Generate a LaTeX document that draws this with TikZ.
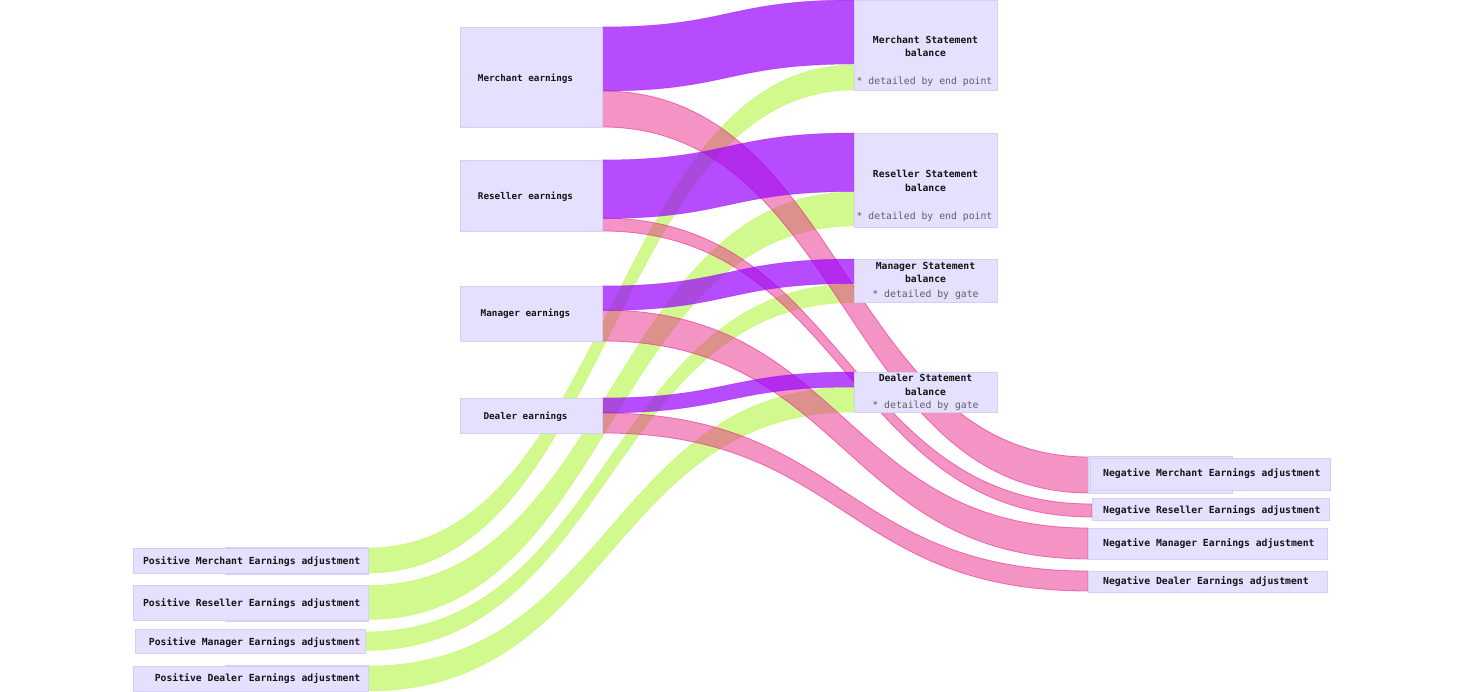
\documentclass[tikz,border=0pt]{standalone}
\usepackage{fontspec}
\setmonofont{DejaVu Sans Mono}
\usetikzlibrary{calc,backgrounds}
\definecolor{boxfill}{RGB}{230,224,255}
\definecolor{boxline}{RGB}{214,206,246}
\definecolor{purp}{RGB}{153,0,255}
\definecolor{pinkc}{RGB}{231,41,138}
\definecolor{greenc}{RGB}{178,245,66}
\definecolor{detailc}{RGB}{95,95,95}
\definecolor{txt}{RGB}{20,20,20}
\tikzset{
  box/.style={draw=boxline, fill=boxfill, line width=0.8pt, inner sep=0pt, outer sep=0pt, anchor=north west},
  ghost/.style={draw=boxline, fill=boxfill, line width=0.8pt},
  title/.style={font=\ttfamily\bfseries\fontsize{9.7}{13.3}\selectfont, text=txt, align=center, inner sep=0pt},
  earn/.style={font=\ttfamily\bfseries\fontsize{9.3}{13}\selectfont, text=txt, inner sep=0pt, anchor=mid, yshift=-1.8pt},
  adj/.style={font=\ttfamily\bfseries\fontsize{9.75}{13}\selectfont, text=txt, inner sep=0pt, yshift=-1.8pt},
  detail/.style={font=\ttfamily\fontsize{9.8}{13}\selectfont, text=detailc, inner sep=0pt, anchor=mid, yshift=-1.8pt},
  purpflow/.style={fill=purp, fill opacity=0.7, draw=purp, draw opacity=0.5, line width=0.5pt},
  pinkflow/.style={fill=pinkc, fill opacity=0.5, draw=pinkc, draw opacity=0.6, line width=0.8pt},
  greenflow/.style={fill=greenc, fill opacity=0.6, draw=greenc, draw opacity=0.5, line width=0.5pt},
}
% #1 source node, #2 offset below its top, #3 target node, #4 offset below its top, #5 band width, #6 style
\newcommand{\flowband}[6]{%
  \path[#6] let \p1=(#1.north east), \p2=(#3.north west), \n1={0.5*(\x1+\x2)} in
    (\x1,{\y1-(#2)*1pt}) .. controls (\n1,{\y1-(#2)*1pt}) and (\n1,{\y2-(#4)*1pt}) .. (\x2,{\y2-(#4)*1pt})
    -- (\x2,{\y2-(#4+#5)*1pt}) .. controls (\n1,{\y2-(#4+#5)*1pt}) and (\n1,{\y1-(#2+#5)*1pt}) .. (\x1,{\y1-(#2+#5)*1pt}) -- cycle;}
\begin{document}
\begin{tikzpicture}[x=1pt,y=-1pt]
\useasboundingbox (0,0) rectangle (1458,692);
% earnings
\node[box, minimum width=142pt, minimum height=100pt] (me) at (460,27) {};
\node[box, minimum width=142pt, minimum height=71pt] (re) at (460,160) {};
\node[box, minimum width=142pt, minimum height=55pt] (ma) at (460,286) {};
\node[box, minimum width=142pt, minimum height=35pt] (de) at (460,398) {};
\node[earn] (met) at (525.5,77.3) {Merchant earnings};
\node[earn] (ret) at (525.5,195.3) {Reseller earnings};
\node[earn] (mat) at (525.5,313) {Manager earnings};
\node[earn] (det) at (525.5,415.3) {Dealer earnings};
% statements
\node[box, minimum width=143pt, minimum height=90pt] (msb) at (854,0) {};
\node[box, minimum width=143pt, minimum height=94pt] (rsb) at (854,133) {};
\node[box, minimum width=143pt, minimum height=43pt] (gsb) at (854,259) {};
\node[box, minimum width=143pt, minimum height=40pt] (dsb) at (854,372) {};
\node[title] (msbt) at (925.5,46.5) {Merchant Statement\\balance};
\node[title] (rsbt) at (925.5,180.8) {Reseller Statement\\balance};
\node[title] (gsbt) at (925.5,272.6) {Manager Statement\\balance};
\node[title] (dsbt) at (925.5,384.9) {Dealer Statement\\balance};
\node[detail] (msbd) at (924.5,80.5) {* detailed by end point};
\node[detail] (rsbd) at (924.5,216) {* detailed by end point};
\node[detail] (gsbd) at (925.5,293.8) {* detailed by gate};
\node[detail] (dsbd) at (925.5,405) {* detailed by gate};
% positive adjustments
\draw[ghost] (225,547) rectangle (368,574);
\draw[ghost] (225,586) rectangle (368,621);
\draw[ghost] (225,665) rectangle (368,692);
\node[box, minimum width=235pt, minimum height=25pt] (pme) at (133,548) {};
\node[box, minimum width=235pt, minimum height=35pt] (pre) at (133,585) {};
\node[box, minimum width=230pt, minimum height=24pt] (pma) at (135,629) {};
\node[box, minimum width=235pt, minimum height=25pt] (pde) at (133,666) {};
\node[adj, anchor=mid east] (pmet) at (360.5,560.5) {Positive Merchant Earnings adjustment};
\node[adj, anchor=mid east] (pret) at (360.5,602.5) {Positive Reseller Earnings adjustment};
\node[adj, anchor=mid east] (pmat) at (360.5,641.3) {Positive Manager Earnings adjustment};
\node[adj, anchor=mid east] (pdet) at (360.5,678) {Positive Dealer Earnings adjustment};
% negative adjustments
\draw[ghost] (1088,456) rectangle (1232,493);
\node[box, minimum width=240pt, minimum height=32pt] (nmebox) at (1090,458) {};
\coordinate (nme) at (1089,456);
\node[box, minimum width=237pt, minimum height=22pt] (nre) at (1092,498) {};
\node[box, minimum width=239pt, minimum height=31pt] (nma) at (1088,528) {};
\node[box, minimum width=239pt, minimum height=21pt] (nde) at (1088,571) {};
\node[adj, anchor=mid west] (nmet) at (1103,473) {Negative Merchant Earnings adjustment};
\node[adj, anchor=mid west] (nret) at (1103,509.5) {Negative Reseller Earnings adjustment};
\node[adj, anchor=mid west] (nmat) at (1103,542.3) {Negative Manager Earnings adjustment};
\node[adj, anchor=mid west] (ndet) at (1103,580.3) {Negative Dealer Earnings adjustment};
\begin{pgfonlayer}{background}
% green
\flowband{pme}{0}{msb}{65}{25}{greenflow}
\flowband{pre}{0.5}{rsb}{59}{34}{greenflow}
\flowband{pma}{3}{gsb}{25}{18.5}{greenflow}
\flowband{pde}{0}{dsb}{15}{25}{greenflow}
% pink
\flowband{me}{64}{nme}{1}{36}{pinkflow}
\flowband{re}{58}{nre}{6}{13}{pinkflow}
\flowband{ma}{24}{nma}{0}{31}{pinkflow}
\flowband{de}{15}{nde}{0}{20}{pinkflow}
% purple
\flowband{me}{0}{msb}{0}{64}{purpflow}
\flowband{re}{0}{rsb}{0}{58.5}{purpflow}
\flowband{ma}{0}{gsb}{0}{24.5}{purpflow}
\flowband{de}{0}{dsb}{0}{15}{purpflow}
\end{pgfonlayer}
\end{tikzpicture}
\end{document}
